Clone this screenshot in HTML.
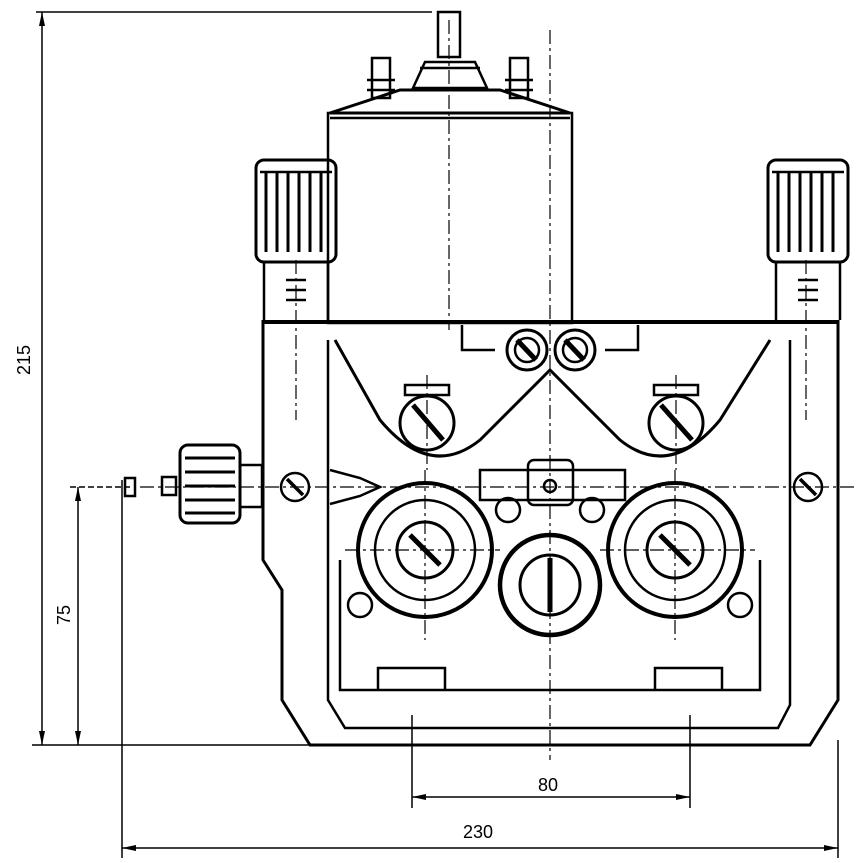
<!DOCTYPE html>
<html><head><style>html,body{margin:0;padding:0;background:#fff}svg{display:block}</style></head>
<body>
<svg width="861" height="863" viewBox="0 0 861 863" xmlns="http://www.w3.org/2000/svg" font-family="Liberation Sans, sans-serif">
<g fill="none" stroke="#000" stroke-width="2.5">
<g stroke-width="1.5">
<line x1="36" y1="12" x2="432" y2="12"/>
<line x1="42" y1="12" x2="42" y2="745"/>
<line x1="32" y1="745" x2="320" y2="745"/>
<line x1="70" y1="487" x2="130" y2="487" stroke-dasharray="6 3"/>
<line x1="78" y1="487" x2="78" y2="745"/>
<line x1="122" y1="480" x2="122" y2="858"/>
<line x1="838" y1="740" x2="838" y2="858"/>
<line x1="122" y1="848" x2="838" y2="848"/>
<line x1="412" y1="715" x2="412" y2="808"/>
<line x1="690" y1="715" x2="690" y2="808"/>
<line x1="412" y1="797" x2="690" y2="797"/>
</g>
<g fill="#000" stroke="none">
<polygon points="42,12 39,26 45,26"/><polygon points="42,745 39,731 45,731"/>
<polygon points="78,487 75,501 81,501"/><polygon points="78,745 75,731 81,731"/>
<polygon points="122,848 136,845 136,851"/><polygon points="838,848 824,845 824,851"/>
<polygon points="412,797 426,794 426,800"/><polygon points="690,797 676,794 676,800"/>
</g>
<rect x="438" y="12" width="22" height="45"/>
<path d="M413,88 L425,62 L475,62 L487,88 Z"/>
<line x1="420" y1="68" x2="480" y2="68"/>
<path d="M330,113 L400,90 L500,90 L570,113 Z" stroke-width="3"/>
<line x1="330" y1="118" x2="570" y2="118"/>
<rect x="328" y="113" width="244" height="210"/>
<rect x="372" y="58" width="18" height="40"/><line x1="367" y1="80" x2="395" y2="80"/><line x1="367" y1="90" x2="395" y2="90"/>
<rect x="510" y="58" width="18" height="40"/><line x1="505" y1="80" x2="533" y2="80"/><line x1="505" y1="90" x2="533" y2="90"/>
<g id="k">
<rect x="256" y="160" width="80" height="102" rx="8" stroke-width="3"/>
<line x1="260" y1="172" x2="332" y2="172"/>
<path d="M266,172 v80 M277,172 v80 M288,172 v80 M299,172 v80 M310,172 v80 M321,172 v80" stroke-width="3"/>
<path d="M264,262 L264,320 M328,262 L328,320"/>
<path d="M286,280 h20 M286,290 h20 M286,300 h20"/>
</g>
<use href="#k" transform="translate(512,0)"/>
<path d="M263,320 L263,560 L282,590 L282,700 L310,745 L810,745 L838,700 L838,320" stroke-width="3"/>
<line x1="263" y1="322" x2="838" y2="322" stroke-width="4"/>
<path d="M328,340 L328,700 L345,728 L778,728 L790,705 L790,340"/>
<path d="M340,560 L340,690 L760,690 L760,560"/>
<path d="M378,690 L378,668 L445,668 L445,690 M655,690 L655,668 L722,668 L722,690"/>
<path d="M335,340 L380,420 Q430,480 480,440 L550,370 L620,440 Q670,480 720,420 L770,340" stroke-width="3"/>
<path d="M462,325 L462,350 L495,350 M605,350 L638,350 L638,325"/>
<circle cx="527" cy="350" r="20" stroke-width="3"/><circle cx="527" cy="350" r="12"/>
<circle cx="575" cy="350" r="20" stroke-width="3"/><circle cx="575" cy="350" r="12"/>
<circle cx="427" cy="423" r="27" stroke-width="3"/>
<circle cx="676" cy="423" r="27" stroke-width="3"/>
<rect x="405" y="385" width="44" height="10"/><rect x="654" y="385" width="44" height="10"/>
<path d="M413,405 L443,440 M661,405 L692,440 M517,340 L536,360 M565,340 L584,360" stroke-width="5"/>
<rect x="480" y="470" width="145" height="30"/>
<rect x="528" y="460" width="45" height="45" rx="6"/><circle cx="550" cy="486" r="6"/>
<circle cx="508" cy="510" r="12"/><circle cx="592" cy="510" r="12"/>
<circle cx="425" cy="550" r="67" stroke-width="4"/><circle cx="425" cy="550" r="50"/><circle cx="425" cy="550" r="28" stroke-width="3"/>
<circle cx="675" cy="550" r="67" stroke-width="4"/><circle cx="675" cy="550" r="50"/><circle cx="675" cy="550" r="28" stroke-width="3"/>
<circle cx="550" cy="585" r="50" stroke-width="4.5"/><circle cx="550" cy="585" r="30" stroke-width="3"/>
<path d="M410,535 L440,565 M660,535 L690,565 M550,558 L550,612" stroke-width="5"/>
<circle cx="360" cy="605" r="12"/><circle cx="740" cy="605" r="12"/>
<circle cx="295" cy="487" r="14"/><path d="M287,479 L303,495" stroke-width="3.5"/>
<circle cx="808" cy="487" r="14"/><path d="M800,479 L816,495" stroke-width="3.5"/>
<rect x="180" y="445" width="60" height="78" rx="8" stroke-width="3"/>
<path d="M185,458 h50 M185,472 h50 M185,486 h50 M185,500 h50 M185,513 h50" stroke-width="3"/>
<rect x="240" y="465" width="22" height="42"/>
<path d="M330,470 L360,478 L380,487 L360,496 L330,504"/>
<rect x="125" y="478" width="10" height="18"/><rect x="162" y="477" width="14" height="18"/>
<g stroke-width="1.2" stroke-dasharray="14 4 3 4">
<line x1="550" y1="30" x2="550" y2="760"/>
<line x1="449" y1="20" x2="449" y2="330"/>
<line x1="140" y1="487" x2="855" y2="487"/>
<line x1="425" y1="470" x2="425" y2="640"/><line x1="675" y1="470" x2="675" y2="640"/>
<line x1="345" y1="550" x2="500" y2="550"/><line x1="600" y1="550" x2="755" y2="550"/>
<line x1="427" y1="375" x2="427" y2="470"/><line x1="676" y1="375" x2="676" y2="470"/>
<line x1="296" y1="260" x2="296" y2="420"/><line x1="806" y1="260" x2="806" y2="420"/>
</g>
</g>
<g font-size="18" fill="#000">
<text x="548" y="791" text-anchor="middle">80</text>
<text x="478" y="838" text-anchor="middle">230</text>
<text transform="translate(30,360) rotate(-90)" text-anchor="middle">215</text>
<text transform="translate(70,615) rotate(-90)" text-anchor="middle">75</text>
</g>
</svg>
</body></html>
